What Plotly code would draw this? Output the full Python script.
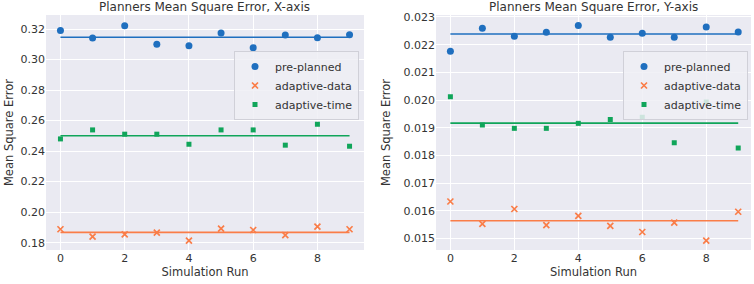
import numpy as np
import plotly.graph_objects as go

runs = list(range(10))
series_names = ["pre-planned", "adaptive-data", "adaptive-time"]

x_pre = [0.3191, 0.3141, 0.3222, 0.3100, 0.3091, 0.3174, 0.3077, 0.3161, 0.3143, 0.3163]
x_data = [0.1888, 0.1839, 0.1855, 0.1866, 0.1813, 0.1892, 0.1883, 0.1849, 0.1905, 0.1888]
x_time = [0.2480, 0.2539, 0.2511, 0.2511, 0.2445, 0.2539, 0.2539, 0.2439, 0.2576, 0.2432]

y_pre = [0.02176, 0.02259, 0.02230, 0.02245, 0.02269, 0.02227, 0.02241, 0.02227, 0.02264, 0.02246]
y_data = [0.01634, 0.01553, 0.01607, 0.01549, 0.01582, 0.01546, 0.01524, 0.01558, 0.01493, 0.01597]
y_time = [0.02012, 0.01910, 0.01898, 0.01898, 0.01916, 0.01930, 0.01938, 0.01846, 0.01993, 0.01827]

x_ticks = [0, 2, 4, 6, 8]
left_ticks = [0.18, 0.20, 0.22, 0.24, 0.26, 0.28, 0.30, 0.32]
right_ticks = [0.015, 0.016, 0.017, 0.018, 0.019, 0.020, 0.021, 0.022, 0.023]

colors = ["#1f6fbf", "#fa7d48", "#10a55a"]
symbols = ["circle", "x-thin-open", "square"]
sizes = [7, 6, 5]

FONT = "DejaVu Sans"
W, H = 754, 284


def px(v):
    return v / W


def py(v):
    return 1 - v / H


fig = go.Figure()


def add_panel(xa, ya, legend, datasets):
    for name, vals, col, sym, sz in zip(series_names, datasets, colors, symbols, sizes):
        mean = float(np.mean(vals))
        fig.add_trace(go.Scatter(
            x=[runs[0], runs[-1]], y=[mean, mean], mode="lines",
            line=dict(color=col, width=1.6), xaxis=xa, yaxis=ya,
            showlegend=False, hoverinfo="skip"))
        marker = dict(color=col, symbol=sym, size=sz)
        if sym == "x-thin-open":
            marker["line"] = dict(color=col, width=1.7)
        fig.add_trace(go.Scatter(
            x=runs, y=vals, mode="markers", name=name, marker=marker,
            xaxis=xa, yaxis=ya, legend=legend))


add_panel("x", "y", "legend", [x_pre, x_data, x_time])
add_panel("x2", "y2", "legend2", [y_pre, y_data, y_time])

ydom = [py(250), py(15)]
axis_common = dict(showgrid=True, gridcolor="white", gridwidth=1, zeroline=False,
                   showline=False, ticks="", automargin=False,
                   tickfont=dict(size=11, color="#333333", family=FONT),
                   title_font=dict(size=11.5, color="#333333", family=FONT))

legend_common = dict(yanchor="top", xanchor="right",
                     bgcolor="rgba(238,238,244,0.85)", bordercolor="#d0d0d8", borderwidth=1,
                     font=dict(size=11, family=FONT, color="#333333"), tracegroupgap=0)

fig.update_layout(
    width=W, height=H,
    margin=dict(l=0, r=0, t=0, b=0, autoexpand=False),
    paper_bgcolor="white",
    plot_bgcolor="#eaeaf2",
    font=dict(family=FONT, color="#333333"),
    xaxis=dict(domain=[px(46), px(364)], range=[-0.45, 9.45], tickvals=x_ticks,
               title=dict(text="Simulation Run", standoff=2), anchor="y", **axis_common),
    yaxis=dict(domain=ydom, range=[0.1752, 0.3292], tickvals=left_ticks, tickformat=".2f",
               title=dict(text="Mean Square Error", standoff=4), anchor="x", **axis_common),
    xaxis2=dict(domain=[px(436), px(751)], range=[-0.45, 9.4], tickvals=x_ticks,
                title=dict(text="Simulation Run", standoff=2), anchor="y2", **axis_common),
    yaxis2=dict(domain=ydom, range=[0.01459, 0.02307], tickvals=right_ticks, tickformat=".3f",
                title=dict(text="Mean Square Error", standoff=10), anchor="x2", **axis_common),
    legend=dict(x=px(359), y=py(51), **legend_common),
    legend2=dict(x=px(748), y=py(51), **legend_common),
    annotations=[
        dict(text="Planners Mean Square Error, X-axis", x=px((46 + 364) / 2), y=py(7),
             xref="paper", yref="paper", showarrow=False, xanchor="center", yanchor="middle",
             font=dict(size=12, family=FONT, color="#333333")),
        dict(text="Planners Mean Square Error, Y-axis", x=px((436 + 751) / 2), y=py(7),
             xref="paper", yref="paper", showarrow=False, xanchor="center", yanchor="middle",
             font=dict(size=12, family=FONT, color="#333333")),
    ],
)

fig.write_html("out.html", config={"displayModeBar": False},
               post_script="document.body.style.margin='0px';")
